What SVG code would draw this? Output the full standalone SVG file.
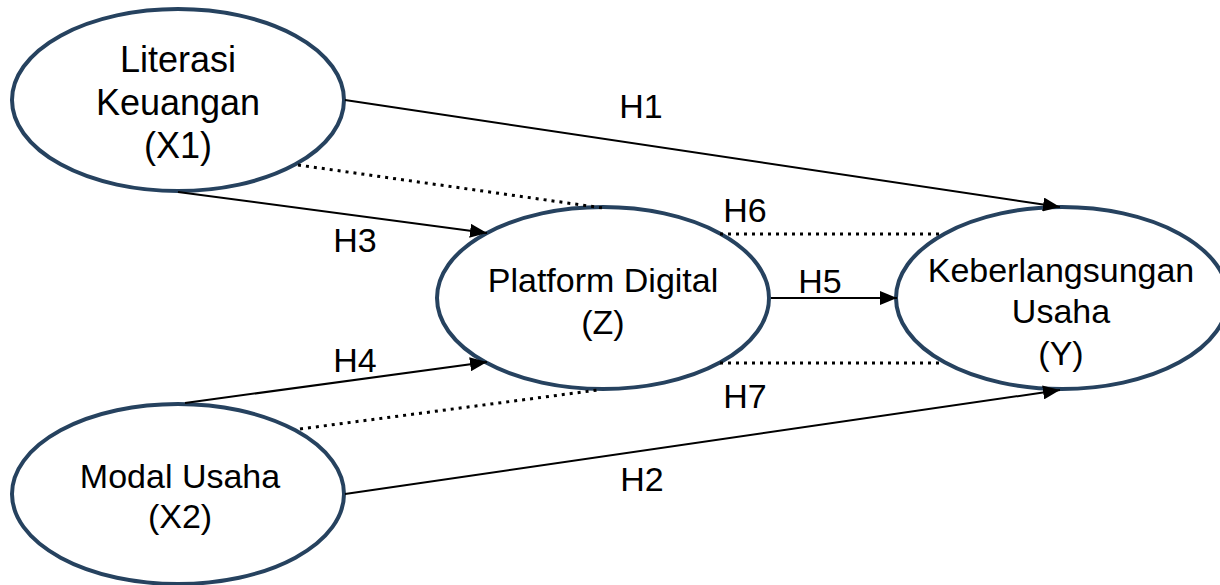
<svg xmlns="http://www.w3.org/2000/svg" width="1220" height="585" viewBox="0 0 1220 585">
<style>
.node{fill:#fff;stroke:#26425F;stroke-width:4}
.t{font-family:"Liberation Sans",Arial,sans-serif;font-size:34px;fill:#000;text-anchor:middle}
.big{font-size:36px}
.c{stroke:#000;stroke-width:2;fill:none}
.d{stroke:#000;stroke-width:3;fill:none;stroke-dasharray:3 5}
</style>
<defs>
<marker id="ah" markerUnits="userSpaceOnUse" markerWidth="18" markerHeight="14" refX="17" refY="7" orient="auto">
<path d="M0,0 L17,7 L0,14 z" fill="#000"/>
</marker>
</defs>
<g id="x1">
<ellipse class="node" cx="178" cy="100" rx="166" ry="91"/>
<text class="t big" x="178" y="72">Literasi</text>
<text class="t big" x="178" y="115">Keuangan</text>
<text class="t big" x="178" y="158">(X1)</text>
</g>
<g id="x2">
<ellipse class="node" cx="178" cy="494" rx="166" ry="90"/>
<text class="t" x="180" y="488">Modal Usaha</text>
<text class="t" x="180" y="528">(X2)</text>
</g>
<g id="z">
<ellipse class="node" cx="603" cy="298" rx="166" ry="91"/>
<text class="t" x="603" y="292">Platform Digital</text>
<text class="t" x="603" y="334">(Z)</text>
</g>
<g id="y">
<ellipse class="node" cx="1062" cy="298" rx="166" ry="91"/>
<text class="t" x="1061" y="282">Keberlangsungan</text>
<text class="t" x="1061" y="323">Usaha</text>
<text class="t" x="1061" y="365">(Y)</text>
</g>
<g id="connectors">
<line class="c" x1="345" y1="100" x2="1060" y2="207" marker-end="url(#ah)"/>
<line class="c" x1="178" y1="192" x2="487" y2="233" marker-end="url(#ah)"/>
<line class="c" x1="185" y1="403" x2="487" y2="362" marker-end="url(#ah)"/>
<line class="c" x1="345" y1="494" x2="1060" y2="390" marker-end="url(#ah)"/>
<line class="c" x1="771" y1="298" x2="897" y2="298" marker-end="url(#ah)"/>
<line class="d" x1="298" y1="165" x2="603" y2="208"/>
<line class="d" x1="300" y1="429" x2="598" y2="390"/>
<line class="d" x1="720" y1="234" x2="943" y2="234"/>
<line class="d" x1="720" y1="363" x2="943" y2="363"/>
<text class="t" x="641" y="118">H1</text>
<text class="t" x="745" y="222">H6</text>
<text class="t" x="355" y="252">H3</text>
<text class="t" x="820" y="293">H5</text>
<text class="t" x="355" y="372">H4</text>
<text class="t" x="745" y="408">H7</text>
<text class="t" x="642" y="491">H2</text>
</g>
</svg>
